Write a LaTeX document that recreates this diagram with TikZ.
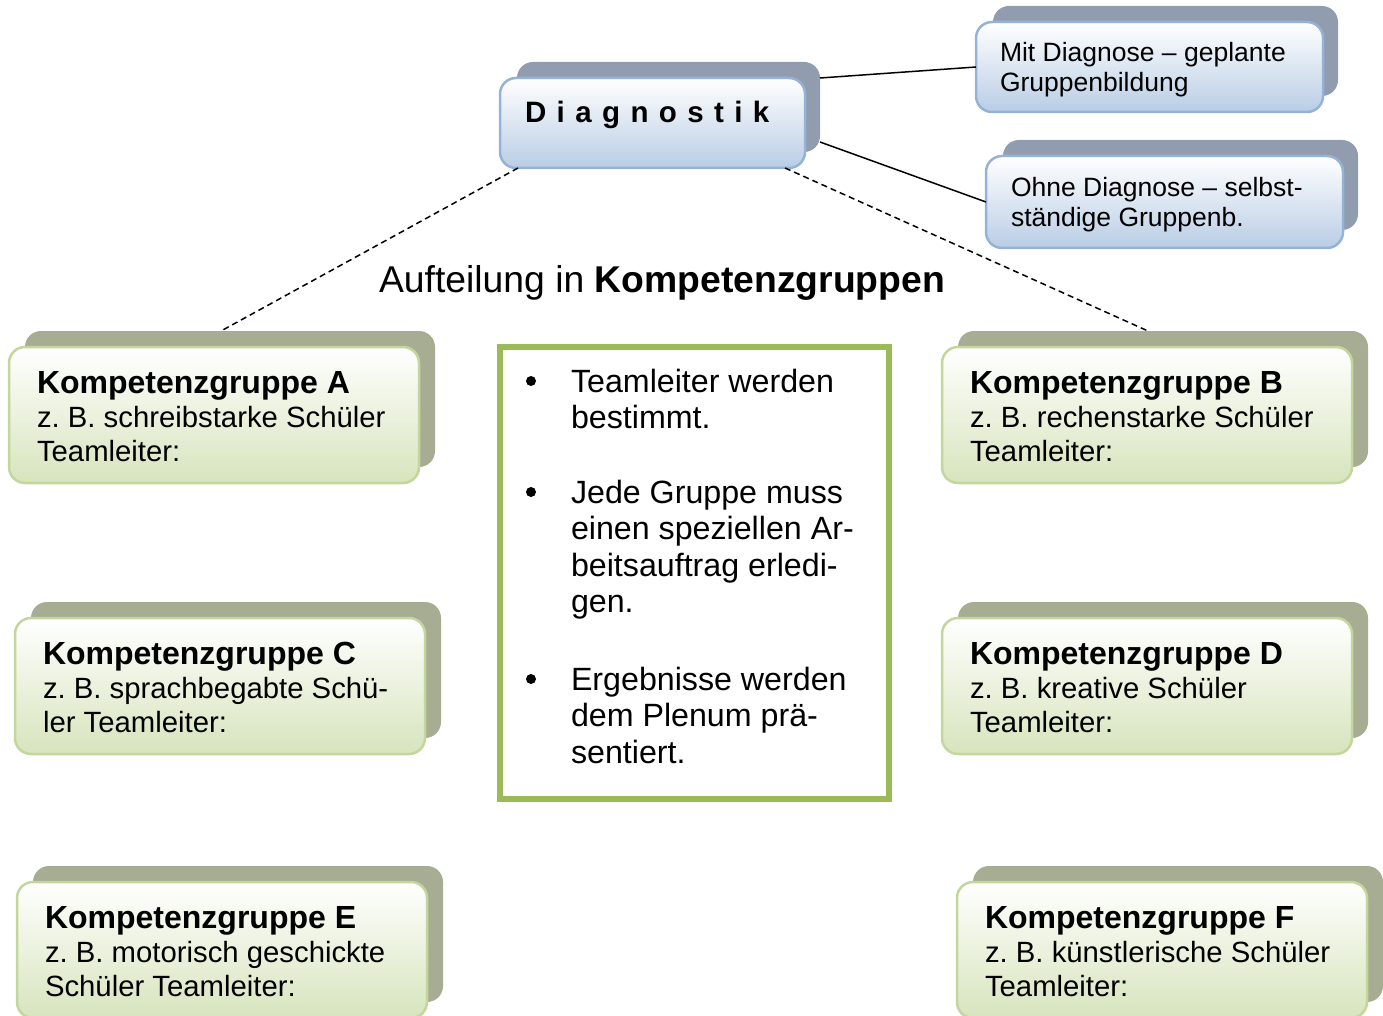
\documentclass[tikz,border=0pt]{standalone}
\usepackage{fontspec}
\setmainfont{Liberation Sans}
\usetikzlibrary{calc}
\frenchspacing
\definecolor{bshadow}{RGB}{145,157,175}
\definecolor{bborder}{RGB}{149,179,215}
\definecolor{bbottom}{RGB}{185,205,229}
\definecolor{gshadowc}{RGB}{166,173,146}
\definecolor{gborder}{RGB}{195,214,155}
\definecolor{gbottom}{RGB}{215,228,189}
\definecolor{gframe}{RGB}{155,187,89}
\tikzset{
  boxbase/.style={rectangle, rounded corners=16pt, inner sep=0pt, outer sep=0pt, anchor=north west},
  gshadow/.style={boxbase, fill=gshadowc, minimum width=410pt, minimum height=136pt},
  gfront/.style={boxbase, draw=gborder, line width=2.5pt, top color=white, bottom color=gbottom, minimum width=410pt, minimum height=136pt},
  bshad/.style={boxbase, fill=bshadow},
  bfront/.style={boxbase, draw=bborder, line width=2.5pt, top color=white, bottom color=bbottom},
  boxtext/.style={anchor=base west, inner sep=0pt, outer sep=0pt},
  conn/.style={line width=1.5pt, black},
  dconn/.style={line width=1.5pt, black, dash pattern=on 6pt off 4pt},
}
\newcommand{\grpbox}[6]{%
  \node[gshadow] (#1-s) at (#2+16,#3-16) {};
  \node[gfront] (#1) at (#2,#3) {};
  \node[boxtext] (#1-t) at (#2+28,#3+46) {\parbox[t]{390pt}{\fontsize{29.3}{34}\selectfont
    {\fontsize{32}{34}\selectfont\bfseries #4}\\#5\\#6}};
}
\begin{document}
\begin{tikzpicture}[x=1pt,y=-1pt]
\useasboundingbox (0,0) rectangle (1383,1016);

% Diagnostik
\node[bshad, minimum width=303pt, minimum height=90pt] (diag-s) at (517,62) {};
\node[bfront, minimum width=305pt, minimum height=90pt] (diag) at (500,78) {};
\node[boxtext] (diag-t) at (525,123) {\fontsize{29.5}{34}\selectfont\bfseries
  D\kern10.4pt i\kern10.4pt a\kern10.4pt g\kern10.4pt n\kern10.4pt o\kern10.4pt s\kern10.4pt t\kern10.4pt i\kern10.4pt k};

% Mit Diagnose
\node[bshad, minimum width=345pt, minimum height=90pt] (mit-s) at (993,6) {};
\node[bfront, minimum width=347pt, minimum height=90pt] (mit) at (976,22) {};
\node[boxtext] (mit-t) at (1000,62) {\parbox[t]{320pt}{\fontsize{26.5}{30}\selectfont Mit Diagnose – geplante\\Gruppenbildung}};

% Ohne Diagnose
\node[bshad, minimum width=355pt, minimum height=90pt] (ohne-s) at (1003,140) {};
\node[bfront, minimum width=357pt, minimum height=92pt] (ohne) at (986,156) {};
\node[boxtext] (ohne-t) at (1011,197) {\parbox[t]{330pt}{\fontsize{26.5}{30}\selectfont Ohne Diagnose – selbst-\\ständige Gruppenb.}};

% Kompetenzgruppen
\grpbox{kA}{9}{347}{Kompetenzgruppe A}{z. B. schreibstarke Schüler}{Teamleiter:}
\grpbox{kB}{942}{347}{Kompetenzgruppe B}{z. B. rechenstarke Schüler}{Teamleiter:}
\grpbox{kC}{15}{618}{Kompetenzgruppe C}{z. B. sprachbegabte Schü-}{ler Teamleiter:}
\grpbox{kD}{942}{618}{Kompetenzgruppe D}{z. B. kreative Schüler}{Teamleiter:}
\grpbox{kE}{17}{882}{Kompetenzgruppe E}{z. B. motorisch geschickte}{Schüler Teamleiter:}
\grpbox{kF}{957}{882}{Kompetenzgruppe F}{z. B. künstlerische Schüler}{Teamleiter:}

% connectors
\draw[conn] ([yshift=-16pt]diag-s.north east) -- (mit.west);
\draw[conn] ([yshift=10pt]diag-s.south east) -- (ohne.west);
\draw[dconn] ([xshift=18pt]diag.south west) -- ([xshift=-9pt]kA-s.north);
\draw[dconn] ([xshift=-20pt]diag.south east) -- ([xshift=-15pt]kB-s.north);

% title
\node[anchor=base, inner sep=0pt] (title) at (662,292) {\fontsize{37.3}{40}\selectfont Aufteilung in \textbf{Kompetenzgruppen}};

% central green box
\node[rectangle, draw=gframe, line width=6pt, fill=white, anchor=north west, inner sep=0pt, outer sep=0pt,
      minimum width=389pt, minimum height=452pt] (info) at (500,347) {};
\fill (531,381) circle (5pt);
\fill (531,492) circle (5pt);
\fill (531,679) circle (5pt);
\node[boxtext] (b1) at (571,392) {\parbox[t]{310pt}{\fontsize{32.2}{36.5}\selectfont Teamleiter werden\\bestimmt.}};
\node[boxtext] (b2) at (571,503) {\parbox[t]{310pt}{\fontsize{32.2}{36.5}\selectfont Jede Gruppe muss\\einen speziellen Ar-\\beitsauftrag erledi-\\gen.}};
\node[boxtext] (b3) at (571,690) {\parbox[t]{310pt}{\fontsize{32.2}{36.5}\selectfont Ergebnisse werden\\dem Plenum prä-\\sentiert.}};
\end{tikzpicture}
\end{document}
